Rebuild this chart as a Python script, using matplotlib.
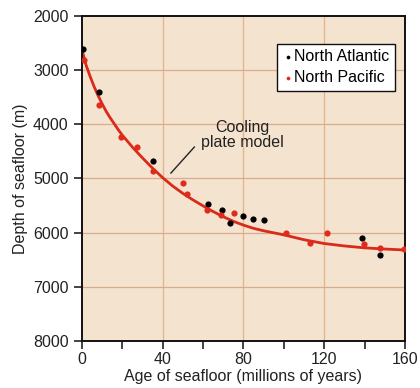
import numpy as np
import matplotlib
matplotlib.use("Agg")
import matplotlib.pyplot as plt

plt.rcParams['font.family'] = ['Liberation Sans', 'DejaVu Sans']

# measured points (age in Myr, depth in m)
atl_age = [0.5, 8.3, 35.3, 62.3, 69.4, 73.5, 80, 85, 90, 138.8, 147.6]
atl_depth = [2610, 3405, 4670, 5470, 5585, 5830, 5700, 5745, 5775, 6107, 6414]

pac_age = [1.2, 8.3, 19.2, 27.3, 35.4, 50, 52.3, 61.8, 68.9, 75.5, 101.2, 112.8, 121.4, 139.8, 147.6, 159.5]
pac_depth = [2820, 3650, 4240, 4420, 4870, 5080, 5284, 5573, 5677, 5634, 6002, 6186, 6015, 6217, 6279, 6309]

# cooling plate model curve
model_age = [0, 2, 4, 6, 8, 10, 12, 14, 16, 18, 20, 25, 30, 35, 40, 45, 50, 55, 60,
             65, 70, 75, 80, 85, 90, 100, 110, 120, 130, 140, 150, 160]
model_depth = [2620, 2900, 3110, 3300, 3470, 3620, 3760, 3880, 3990, 4100, 4200, 4420,
               4620, 4810, 4985, 5140, 5275, 5395, 5505, 5610, 5705, 5790, 5860, 5920,
               5965, 6040, 6130, 6200, 6245, 6280, 6302, 6320]

x_ticks = [0, 40, 80, 120, 160]
x_minor = [20, 60, 100, 140]
y_ticks = [2000, 3000, 4000, 5000, 6000, 7000, 8000]

fig = plt.figure(figsize=(4.2, 3.88), dpi=100)
ax = fig.add_axes([0.195, 0.121, 0.769, 0.838])
ax.set_facecolor('#f4e3cf')

# grid
for gx in [40, 80, 120]:
    ax.axvline(gx, color='#e2b486', lw=0.9, zorder=0)
for gy in [3000, 4000, 5000, 6000, 7000]:
    ax.axhline(gy, color='#dcab8f', lw=0.9, zorder=0)

ax.plot(model_age, model_depth, color='#d92a1a', lw=2.0, zorder=2)
ax.scatter(atl_age, atl_depth, s=20, color='black', zorder=3, label='North Atlantic', linewidths=0)
ax.scatter(pac_age, pac_depth, s=20, color='#e02a1c', zorder=3, label='North Pacific', linewidths=0)

ax.text(79.5, 4200, "Cooling\nplate model", ha='center', va='center', fontsize=11.5,
        color='#222222', linespacing=1.05)
ax.plot([44.1, 55.7], [4900, 4420], color='#222222', lw=1.0)

ax.set_xlim(0, 160)
ax.set_ylim(8000, 2000)
ax.set_xticks(x_ticks)
ax.set_xticks(x_minor, minor=True)
ax.set_yticks(y_ticks)
ax.tick_params(axis='both', which='both', direction='out', length=6, width=1.2,
               labelsize=11.5, colors='#222222')
ax.tick_params(axis='x', which='both', pad=2)
for sp in ax.spines.values():
    sp.set_linewidth(1.4)
    sp.set_color('#111111')

ax.set_xlabel('Age of seafloor (millions of years)', fontsize=11.5, color='#222222', labelpad=1)
ax.set_ylabel('Depth of seafloor (m)', fontsize=11.5, color='#222222', labelpad=4)

leg = ax.legend(loc='upper right', bbox_to_anchor=(0.969, 0.914), fontsize=11.5,
                frameon=True, fancybox=False, framealpha=1, edgecolor='#111111',
                handletextpad=0.1, handlelength=0.6, borderpad=0.35, labelspacing=0.35,
                markerscale=0.6, borderaxespad=0)
leg.get_frame().set_linewidth(1.0)

fig.savefig('out.png', dpi=100, facecolor='white')
